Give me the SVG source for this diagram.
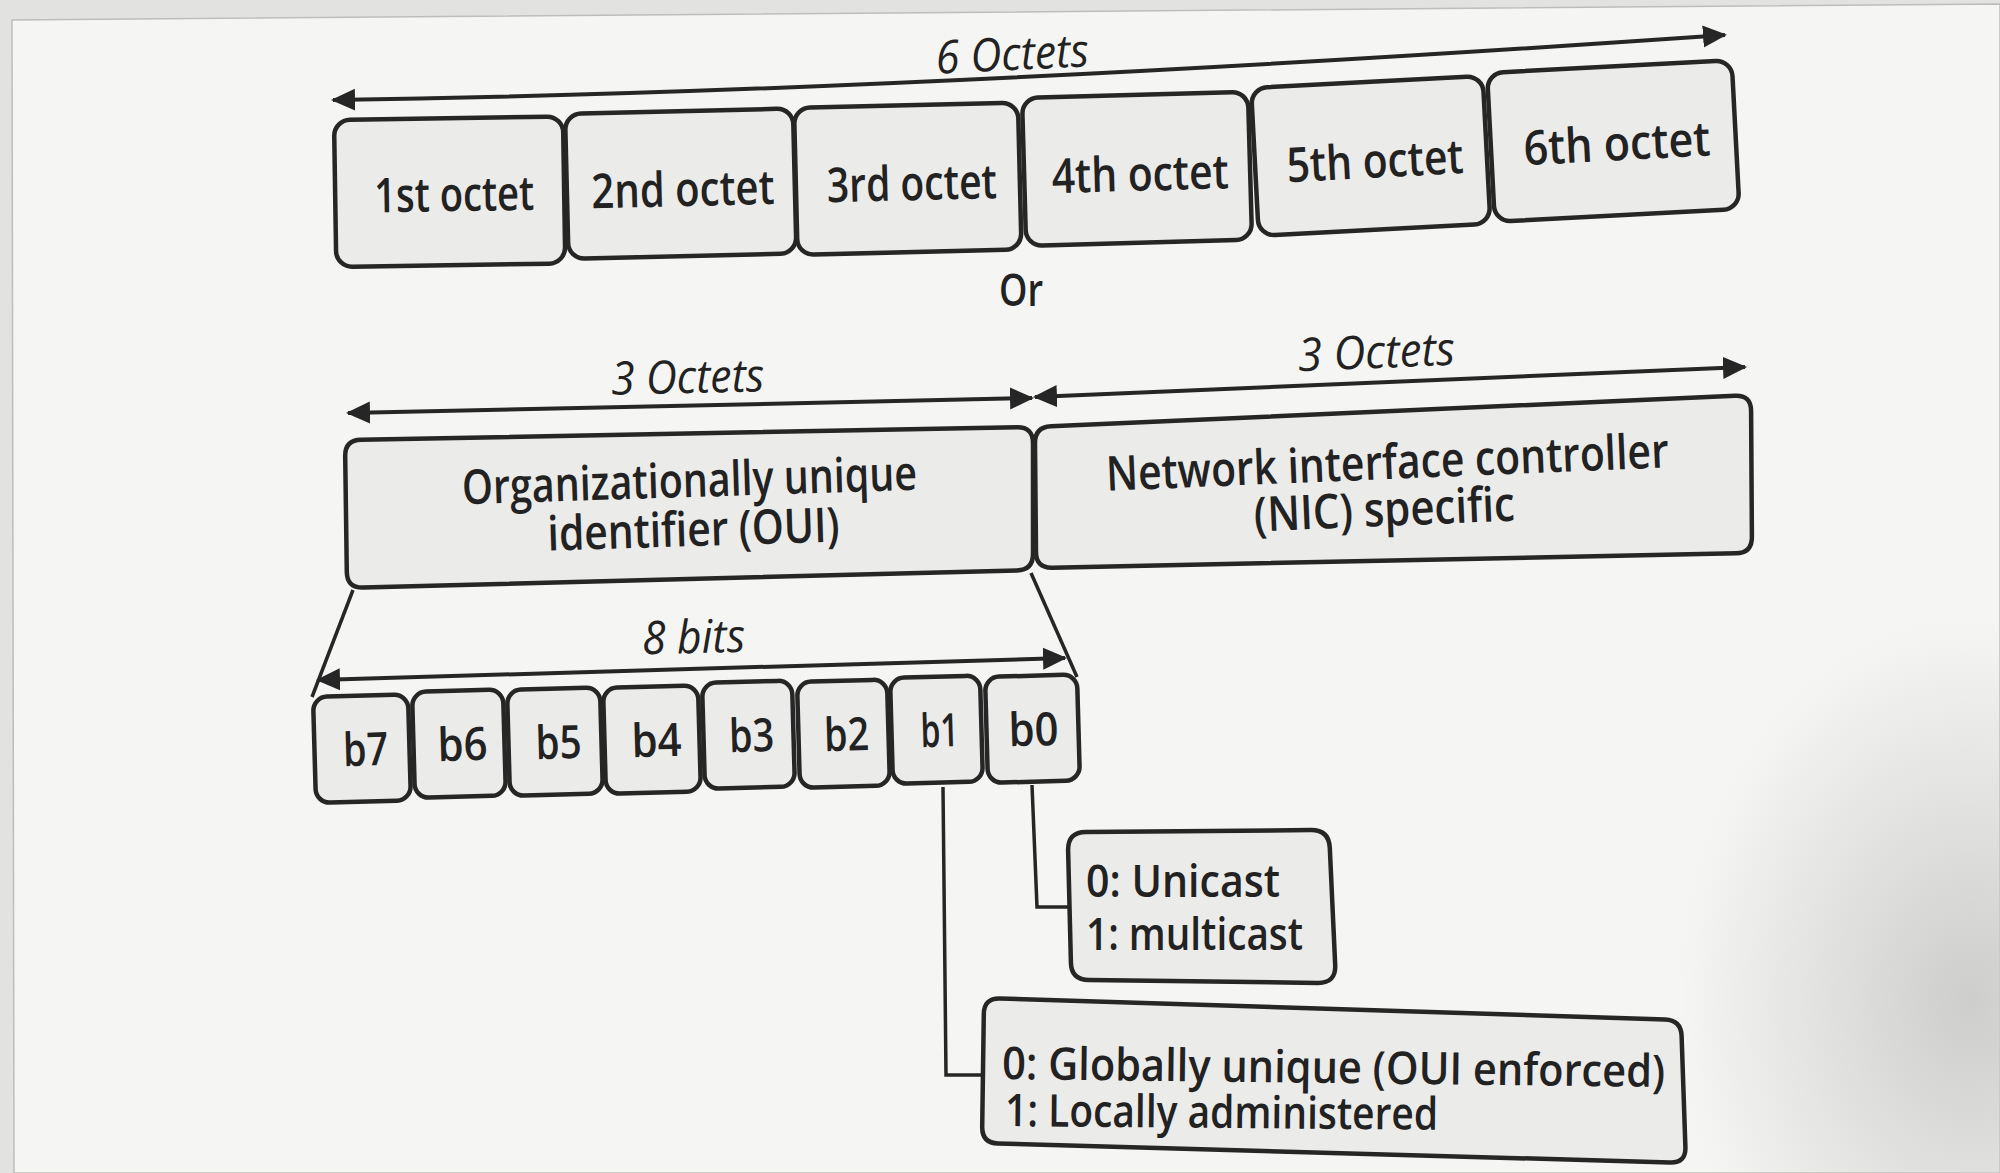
<svg xmlns="http://www.w3.org/2000/svg" width="2000" height="1173" viewBox="0 0 2000 1173">
<defs>
<style>
.box{fill:#ebebe9;stroke:#262626;stroke-width:4.5}
.ln{fill:none;stroke:#262626;stroke-width:3.5}
.arr{fill:none;stroke:#262626;stroke-width:4;marker-start:url(#ah);marker-end:url(#ah)}
text{font-family:"Open Sans","Noto Sans","Liberation Sans",sans-serif;fill:#222;font-weight:600}
.t48{font-size:48px;text-anchor:middle}
.t46{font-size:46px;text-anchor:middle}
.it{font-size:46px;font-style:italic;font-weight:500;text-anchor:middle}
.tl{font-size:45px;text-anchor:start}
</style>
<marker id="ah" viewBox="0 0 24 24" refX="22" refY="12" markerWidth="24" markerHeight="24" markerUnits="userSpaceOnUse" orient="auto-start-reverse">
<path d="M0,1 L24,12 L0,23 Z" fill="#262626"/>
</marker>
<radialGradient id="shade" cx="0.5" cy="0.5" r="0.5">
<stop offset="0" stop-color="#c9c9c7" stop-opacity="0.9"/>
<stop offset="1" stop-color="#c9c9c7" stop-opacity="0"/>
</radialGradient>
</defs>

<rect x="0" y="0" width="2000" height="1173" fill="#e2e2e0"/>
<path d="M12,20 L2000,4 L2000,1173 L14,1173 Z" fill="#f5f5f3" stroke="#bdbdbb" stroke-width="1.5"/>
<ellipse cx="1970" cy="1000" rx="290" ry="380" fill="url(#shade)"/>

<g id="connectors">
<path class="arr" d="M333,100 Q900,92 1725,35"/>
<path class="arr" d="M348,413 L1032,398"/>
<path class="arr" d="M1035,397 L1745,367"/>
<path class="arr" d="M318,680 L1065,658"/>
<path class="ln" d="M353,590 L312,697"/>
<path class="ln" d="M1031,573 L1077,677"/>
<path class="ln" d="M943,787 L946,1075 L984,1075"/>
<path class="ln" d="M1032,785 L1037,907 L1069,907"/>
</g>

<g id="labels">
<text class="it" x="1013" y="70" textLength="153" lengthAdjust="spacingAndGlyphs" transform="rotate(-2.8 1013 70)">6 Octets</text>
<text class="t46" x="1021" y="306" textLength="44" lengthAdjust="spacingAndGlyphs">Or</text>
<text class="it" x="688" y="393" textLength="153" lengthAdjust="spacingAndGlyphs" transform="rotate(-1.3 688 393)">3 Octets</text>
<text class="it" x="1377" y="368" textLength="157" lengthAdjust="spacingAndGlyphs" transform="rotate(-2.4 1377 368)">3 Octets</text>
<text class="it" x="694" y="653" textLength="103" lengthAdjust="spacingAndGlyphs" transform="rotate(-1.5 694 653)">8 bits</text>
</g>

<g id="octet1" transform="translate(334,120) rotate(-0.9)">
<rect class="box" x="0" y="0" width="229" height="147" rx="16"/>
<text class="t48" x="119" y="93" textLength="160" lengthAdjust="spacingAndGlyphs">1st octet</text>
</g>
<g id="octet2" transform="translate(565,114) rotate(-1.4)">
<rect class="box" x="0" y="0" width="228" height="145" rx="16"/>
<text class="t48" x="116" y="95" textLength="183" lengthAdjust="spacingAndGlyphs">2nd octet</text>
</g>
<g id="octet3" transform="translate(794,108) rotate(-1.4)">
<rect class="box" x="0" y="0" width="224" height="147" rx="16"/>
<text class="t48" x="116" y="95" textLength="170" lengthAdjust="spacingAndGlyphs">3rd octet</text>
</g>
<g id="octet4" transform="translate(1022,98) rotate(-1.6)">
<rect class="box" x="0" y="0" width="226" height="148" rx="16"/>
<text class="t48" x="116" y="96" textLength="177" lengthAdjust="spacingAndGlyphs">4th octet</text>
</g>
<g id="octet5" transform="translate(1251,88) rotate(-3.0)">
<rect class="box" x="0" y="0" width="232" height="148" rx="16"/>
<text class="t48" x="120" y="96" textLength="177" lengthAdjust="spacingAndGlyphs">5th octet</text>
</g>
<g id="octet6" transform="translate(1487,73) rotate(-3.0)">
<rect class="box" x="0" y="0" width="245" height="149" rx="16"/>
<text class="t48" x="126" y="94" textLength="187" lengthAdjust="spacingAndGlyphs">6th octet</text>
</g>

<g id="oui">
<path class="box" d="M361,439.7 L1017,427.3 Q1033,427 1033,443 L1033,554 Q1033,570 1017,570.4 L363,587.6 Q347,588 346.8,572 L345.2,456 Q345,440 361,439.7 Z"/>
<text class="t48" x="690" y="497" textLength="455" lengthAdjust="spacingAndGlyphs" transform="rotate(-1.8 690 497)">Organizationally unique</text>
<text class="t48" x="694" y="546" textLength="292" lengthAdjust="spacingAndGlyphs" transform="rotate(-1.8 694 546)">identifier (OUI)</text>
</g>

<g id="nic">
<path class="box" d="M1051,426.3 L1735,395.7 Q1751,395 1751.1,411 L1751.9,537 Q1752,553 1736,553.3 L1052,567.7 Q1036,568 1036,552 L1035,443 Q1035,427 1051,426.3 Z"/>
<text class="t48" x="1388" y="479" textLength="563" lengthAdjust="spacingAndGlyphs" transform="rotate(-2.4 1388 479)">Network interface controller</text>
<text class="t48" x="1385" y="526" textLength="261" lengthAdjust="spacingAndGlyphs" transform="rotate(-2.4 1385 526)">(NIC) specific</text>
</g>

<g id="b7" transform="translate(313,697) rotate(-1.6)"><rect class="box" x="0" y="0" width="95" height="106" rx="14"/><text class="t46" x="51" y="70" textLength="45" lengthAdjust="spacingAndGlyphs">b7</text></g>
<g id="b6" transform="translate(412,692) rotate(-1.6)"><rect class="box" x="0" y="0" width="91" height="106" rx="14"/><text class="t46" x="49" y="70" textLength="50" lengthAdjust="spacingAndGlyphs">b6</text></g>
<g id="b5" transform="translate(507,690) rotate(-1.6)"><rect class="box" x="0" y="0" width="93" height="106" rx="14"/><text class="t46" x="50" y="70" textLength="46" lengthAdjust="spacingAndGlyphs">b5</text></g>
<g id="b4" transform="translate(603,688) rotate(-1.6)"><rect class="box" x="0" y="0" width="95" height="106" rx="14"/><text class="t46" x="52" y="70" textLength="50" lengthAdjust="spacingAndGlyphs">b4</text></g>
<g id="b3" transform="translate(702,683) rotate(-1.6)"><rect class="box" x="0" y="0" width="90" height="106" rx="14"/><text class="t46" x="48" y="70" textLength="45" lengthAdjust="spacingAndGlyphs">b3</text></g>
<g id="b2" transform="translate(797,682) rotate(-1.6)"><rect class="box" x="0" y="0" width="90" height="106" rx="14"/><text class="t46" x="48" y="70" textLength="45" lengthAdjust="spacingAndGlyphs">b2</text></g>
<g id="b1" transform="translate(890,678) rotate(-1.6)"><rect class="box" x="0" y="0" width="90" height="106" rx="14"/><text class="t46" x="48" y="70" textLength="38" lengthAdjust="spacingAndGlyphs">b1</text></g>
<g id="b0" transform="translate(985,677) rotate(-1.6)"><rect class="box" x="0" y="0" width="92" height="106" rx="14"/><text class="t46" x="47" y="70" textLength="50" lengthAdjust="spacingAndGlyphs">b0</text></g>

<g id="unicast">
<path class="box" d="M1086,831.9 L1311,830.1 Q1329,830 1329.8,848 L1335.2,965 Q1336,983 1318,982.9 L1089,980.1 Q1071,980 1070.9,962 L1068.1,850 Q1068,832 1086,831.9 Z"/>
<text class="tl" x="1086" y="897" textLength="194" lengthAdjust="spacingAndGlyphs">0: Unicast</text>
<text class="tl" x="1086" y="950" textLength="217" lengthAdjust="spacingAndGlyphs">1: multicast</text>
</g>

<g id="globally">
<path class="box" d="M1000,998.5 L1665,1019.5 Q1681,1020 1681.6,1036 L1685.4,1147 Q1686,1163 1670,1162.5 L998,1143.5 Q982,1143 982.2,1127 L983.8,1014 Q984,998 1000,998.5 Z"/>
<text class="tl" x="1002" y="1079" textLength="663" lengthAdjust="spacingAndGlyphs" transform="rotate(0.7 1002 1079)">0: Globally unique (OUI enforced)</text>
<text class="tl" x="1005" y="1126" textLength="433" lengthAdjust="spacingAndGlyphs" transform="rotate(0.5 1005 1126)">1: Locally administered</text>
</g>
</svg>
